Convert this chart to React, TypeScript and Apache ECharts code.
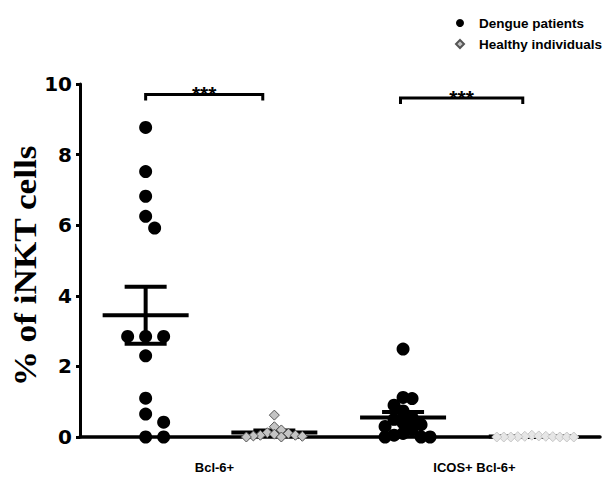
import React, { useEffect, useRef } from "react";
import * as echarts from "echarts";

// ---- data ----
const groupLabels = ["Bcl-6+", "ICOS+ Bcl-6+"];
const seriesNames = ["Dengue patients", "Healthy individuals"];
const dengueBcl6 = [8.77, 7.52, 6.82, 6.25, 5.92, 2.85, 2.85, 2.85, 2.3, 1.1, 0.65, 0.42, 0, 0];
const healthyBcl6 = [0.62, 0.29, 0.2, 0.12, 0.1, 0.08, 0.05, 0.05, 0.03, 0.02, 0, 0];
const dengueIcosBcl6 = [2.49, 1.12, 1.09, 0.9, 0.74, 0.55, 0.5, 0.4, 0.35, 0.3, 0.2, 0.1, 0.05, 0, 0, 0];
const healthyIcosBcl6 = [0.05, 0.03, 0.02, 0.02, 0.01, 0.01, 0, 0, 0, 0, 0, 0];
const yTickValues = [0, 2, 4, 6, 8, 10];
const significanceLabels = ["***", "***"];
const yTitle = "% of iNKT cells";

// ---- layout ----
const W = 605;
const H = 478;
const GRID = { left: 80, right: 5, top: 84, bottom: 41 };
const X_MIN = 0.49;
const X_MAX = 4.53;
const Y_MIN = 0;
const Y_MAX = 10;
const pxPerX = (W - GRID.left - GRID.right) / (X_MAX - X_MIN);
const pxPerY = (H - GRID.top - GRID.bottom) / (Y_MAX - Y_MIN);
const columns = [1, 2, 3, 4];

function swarm(values: number[], diam: number, step: number): number[] {
  const order = values.map((_, i) => i).sort((a, b) => values[b] - values[a]);
  const placed: number[][] = [];
  const offs: number[] = new Array(values.length).fill(0);
  for (const i of order) {
    const yp = values[i] * pxPerY;
    for (let k = 0; k < 60; k++) {
      const m = k === 0 ? 0 : k % 2 === 1 ? Math.ceil(k / 2) : -Math.ceil(k / 2);
      const xp = m * step;
      if (placed.every((p) => Math.hypot(p[0] - xp, p[1] - yp) >= diam - 0.01)) {
        placed.push([xp, yp]);
        offs[i] = xp / pxPerX;
        break;
      }
    }
  }
  return offs;
}

function points(values: number[], col: number, diam: number, step: number, itemStyle?: any) {
  const offs = swarm(values, diam, step);
  return values.map((v, i) =>
    itemStyle ? { value: [col + offs[i], v], itemStyle } : [col + offs[i], v]
  );
}

function summary(values: number[], col: number) {
  const n = values.length;
  const mean = values.reduce((a, b) => a + b, 0) / n;
  const sd = Math.sqrt(values.reduce((a, b) => a + (b - mean) * (b - mean), 0) / (n - 1));
  return [col, mean, sd / Math.sqrt(n)];
}

export default function App() {
  const ref = useRef<HTMLDivElement>(null);
  useEffect(() => {
    if (!ref.current) return;
    const chart = echarts.init(ref.current, null, { renderer: "svg" });

    const denguePts = [
      ...points(dengueBcl6, columns[0], 13, 9),
      ...points(dengueIcosBcl6, columns[2], 9, 9),
    ];
    const healthyPts = [
      ...points(healthyBcl6, columns[1], 7, 7),
      ...points(healthyIcosBcl6, columns[3], 7, 7, {
        color: "#e6e6e6",
        borderColor: "#c8c8c8",
        borderWidth: 1,
      }),
    ];
    const summaries = [
      summary(dengueBcl6, columns[0]),
      summary(healthyBcl6, columns[1]),
      summary(dengueIcosBcl6, columns[2]),
      summary(healthyIcosBcl6, columns[3]),
    ];
    const brackets = [
      [columns[0], columns[1] - 0.09, 9.7, 0],
      [columns[2] - 0.02, columns[3] - 0.07, 9.6, 1],
    ];

    const font = "Liberation Sans";

    const option: any = {
      animation: false,
      backgroundColor: "#fff",
      grid: { ...GRID },
      legend: {
        orient: "vertical",
        left: 450,
        top: 11,
        itemGap: 7,
        itemWidth: 8,
        itemHeight: 8,
        data: [
          { name: seriesNames[0], icon: "circle" },
          { name: seriesNames[1], icon: "diamond" },
        ],
        textStyle: {
          fontFamily: font,
          fontWeight: "bold",
          fontSize: 13.5,
          color: "#000",
          padding: [0, 0, 0, 10],
        },
      },
      xAxis: [
        {
          type: "value",
          min: X_MIN,
          max: X_MAX,
          axisLine: { show: true, lineStyle: { color: "#000", width: 3.5 } },
          axisTick: { show: false },
          axisLabel: { show: false },
          splitLine: { show: false },
        },
        {
          type: "category",
          data: groupLabels,
          position: "bottom",
          axisLine: { show: false },
          axisTick: { show: false },
          axisLabel: {
            margin: 24,
            fontSize: 13,
            fontWeight: "bold",
            fontFamily: font,
            color: "#000",
            padding: [0, 0, 0, 9],
          },
          splitLine: { show: false },
        },
      ],
      yAxis: {
        type: "value",
        min: Y_MIN,
        max: Y_MAX,
        interval: 2,
        axisLine: { show: true, lineStyle: { color: "#000", width: 3 } },
        axisTick: { show: true, length: 4, lineStyle: { color: "#000", width: 3 } },
        axisLabel: {
          margin: 8,
          fontSize: 20,
          fontWeight: "bold",
          fontFamily: "DejaVu Sans",
          color: "#000",
          formatter: (v: number) => (yTickValues.includes(v) ? String(v) : ""),
        },
        splitLine: { show: false },
      },
      graphic: [
        {
          type: "text",
          x: 25,
          y: 266,
          rotation: Math.PI / 2,
          scaleX: 1.1,
          style: {
            text: yTitle,
            font: 'bold 32px "Liberation Serif"',
            fill: "#000",
            align: "center",
            verticalAlign: "middle",
          },
        },
      ],
      series: [
        {
          name: seriesNames[0],
          type: "scatter",
          xAxisIndex: 0,
          data: denguePts,
          symbol: "circle",
          symbolSize: 13,
          itemStyle: { color: "#000", opacity: 1 },
          clip: false,
          z: 3,
        },
        {
          name: seriesNames[1],
          type: "scatter",
          xAxisIndex: 0,
          data: healthyPts,
          symbol: "diamond",
          symbolSize: 10,
          itemStyle: { color: "#c4c4c4", borderColor: "#555", borderWidth: 1, opacity: 1 },
          clip: false,
          z: 4,
        },
        {
          type: "custom",
          xAxisIndex: 0,
          data: summaries,
          encode: { x: 0, y: 1 },
          clip: false,
          silent: true,
          z: 3,
          renderItem: (_p: any, api: any) => {
            const x = api.value(0);
            const m = api.value(1);
            const e = api.value(2);
            const c = api.coord([x, m]);
            const t = api.coord([x, m + e]);
            const b = api.coord([x, Math.max(0, m - e)]);
            const st = { stroke: "#000", lineWidth: 4 };
            return {
              type: "group",
              children: [
                { type: "line", shape: { x1: c[0] - 43, y1: c[1], x2: c[0] + 43, y2: c[1] }, style: st },
                { type: "line", shape: { x1: c[0], y1: t[1], x2: c[0], y2: b[1] }, style: st },
                { type: "line", shape: { x1: c[0] - 21, y1: t[1], x2: c[0] + 21, y2: t[1] }, style: st },
                { type: "line", shape: { x1: c[0] - 21, y1: b[1], x2: c[0] + 21, y2: b[1] }, style: st },
              ],
            };
          },
        },
        {
          type: "custom",
          xAxisIndex: 0,
          data: brackets,
          encode: { x: [0, 1], y: 2 },
          clip: false,
          silent: true,
          z: 5,
          renderItem: (_p: any, api: any) => {
            const a = api.coord([api.value(0), api.value(2)]);
            const b = api.coord([api.value(1), api.value(2)]);
            const idx = api.value(3);
            return {
              type: "group",
              children: [
                {
                  type: "polyline",
                  shape: { points: [[a[0], a[1] + 6], [a[0], a[1]], [b[0], b[1]], [b[0], b[1] + 6]] },
                  style: { stroke: "#000", lineWidth: 3, fill: null },
                },
                {
                  type: "text",
                  style: {
                    text: significanceLabels[idx],
                    x: (a[0] + b[0]) / 2,
                    y: a[1] - 1,
                    align: "center",
                    verticalAlign: "middle",
                    font: `bold 21px "${font}"`,
                    fill: "#000",
                  },
                },
              ],
            };
          },
        },
      ],
    };
    chart.setOption(option);
    return () => chart.dispose();
  }, []);
  return (
    <div
      ref={ref}
      style={{ position: "absolute", left: 0, top: 0, width: W, height: H }}
    />
  );
}
